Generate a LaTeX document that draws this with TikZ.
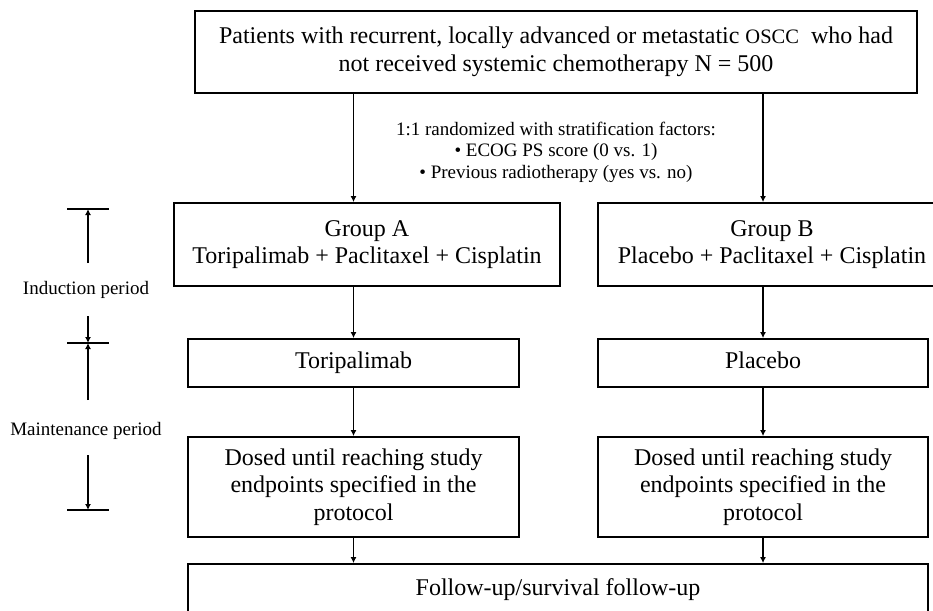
\documentclass[tikz,border=0pt]{standalone}
\usepackage{fontspec}
\setmainfont{Liberation Serif}
\usetikzlibrary{arrows.meta}
\begin{document}
\begin{tikzpicture}[x=1pt,y=-1pt,
  box/.style={draw,line width=1.8pt,inner sep=0pt,align=center,font=\fontsize{24}{27.5}\selectfont},
  onebox/.style={box,text height=15pt,text depth=5pt},
  arr/.style={line width=1.8pt,-{Latex[length=6pt,width=6pt]}},
  barline/.style={line width=1.8pt},
  lbl/.style={font=\fontsize{19}{21.5}\selectfont,align=center,inner sep=0pt}]
\useasboundingbox (0,0) rectangle (933,610);
% boxes
\node[box,minimum width=722pt,minimum height=82pt] (top) at (556,52)
  {Patients with recurrent, locally advanced or metastatic {\fontsize{20.5}{24}\selectfont OSCC}\ \ who had\\not received systemic chemotherapy N = 500};
\node[box,minimum width=386pt,minimum height=83pt] (ga) at (367,244.5)
  {Group A\\Toripalimab + Paclitaxel + Cisplatin};
\node[box,minimum width=348pt,minimum height=83pt] (gb) at (772,244.5)
  {Group B\\Placebo + Paclitaxel + Cisplatin};
\node[onebox,minimum width=331pt,minimum height=48pt] (tor) at (353.5,363) {Toripalimab};
\node[onebox,minimum width=330pt,minimum height=48pt] (pla) at (763,363) {Placebo};
\node[box,minimum width=331pt,minimum height=100pt] (da) at (353.5,487)
  {Dosed until reaching study\\endpoints specified in the\\protocol};
\node[box,minimum width=330pt,minimum height=100pt] (db) at (763,487)
  {Dosed until reaching study\\endpoints specified in the\\protocol};
\node[onebox,minimum width=740pt,minimum height=52pt] (fu) at (558,590) {Follow-up/survival follow-up};
% randomisation text
\node[lbl] (rand) at (556,152)
  {1:1 randomized with stratification factors:\\\textbullet{} ECOG PS score (0 vs. 1)\\\textbullet{} Previous radiotherapy (yes vs. no)};
% connectors
\draw[arr] (top.south -| tor.north) -- (ga.north -| tor.north);
\draw[arr] (top.south -| pla.north) -- (gb.north -| pla.north);
\draw[arr] (ga.south -| tor.north) -- (tor.north);
\draw[arr] (gb.south -| pla.north) -- (pla.north);
\draw[arr] (tor.south) -- (da.north);
\draw[arr] (pla.south) -- (db.north);
\draw[arr] (da.south) -- (fu.north -| da.south);
\draw[arr] (db.south) -- (fu.north -| db.south);
% period brackets
\coordinate (b1) at (88,209);
\coordinate (b2) at (88,343);
\coordinate (b3) at (88,510);
\coordinate (a1) at (88,263);
\coordinate (a2) at (88,316);
\coordinate (a3) at (88,400);
\coordinate (a4) at (88,455);
\draw[barline] ([xshift=-21pt]b1) -- ([xshift=21pt]b1);
\draw[barline] ([xshift=-21pt]b2) -- ([xshift=21pt]b2);
\draw[barline] ([xshift=-21pt]b3) -- ([xshift=21pt]b3);
\node[lbl] (ind) at (86,290) {Induction period};
\node[lbl] (mnt) at (86,431) {Maintenance period};
\draw[arr] (a1) -- (b1);
\draw[arr] (a2) -- (b2);
\draw[arr] (a3) -- (b2);
\draw[arr] (a4) -- (b3);
\end{tikzpicture}
\end{document}
